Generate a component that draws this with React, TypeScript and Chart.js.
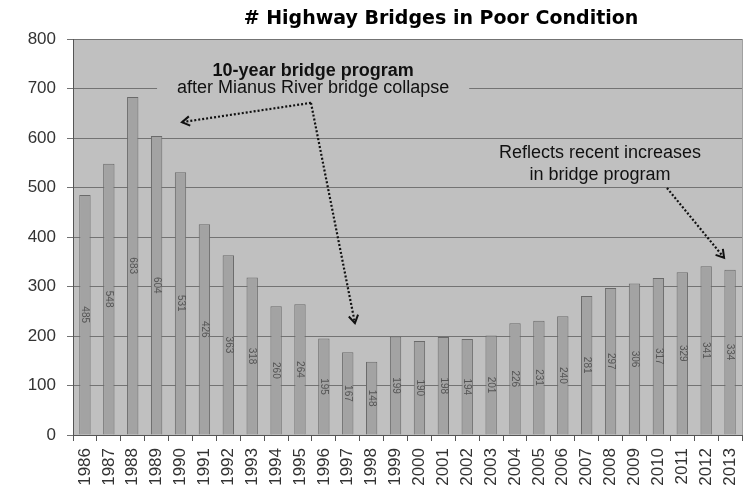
import React, { useEffect, useRef } from "react";
import { Chart, registerables } from "chart.js";

Chart.register(...registerables);

const years = [
  "1986", "1987", "1988", "1989", "1990", "1991", "1992", "1993", "1994", "1995",
  "1996", "1997", "1998", "1999", "2000", "2001", "2002", "2003", "2004", "2005",
  "2006", "2007", "2008", "2009", "2010", "2011", "2012", "2013",
];
const poorBridges = [
  485, 548, 683, 604, 531, 426, 363, 318, 260, 264,
  195, 167, 148, 199, 190, 198, 194, 201, 226, 231,
  240, 281, 297, 306, 317, 329, 341, 334,
];
const yMin = 0;
const yMax = 800;
const yStep = 100;

const titleText = "# Highway Bridges in Poor Condition";
const noteOneBold = "10-year bridge program";
const noteOneText = "after Mianus River bridge collapse";
const noteTwoLines = ["Reflects recent increases", "in bridge program"];

// annotation anchors in data coordinates (category index, value)
const noteOneAt = { x: 9.55, yBold: 735, yText: 701 };
const noteTwoAt = { x: 21.56, y1: 570, y2: 525 };
const arrowOneStart = { x: 9.46, y: 671 };
const arrowOneEndA = { x: 4.06, y: 632 };
const arrowOneEndB = { x: 11.3, y: 226 };
const arrowTwoStart = { x: 24.36, y: 499 };
const arrowTwoEnd = { x: 26.75, y: 358 };

const FONT = "'Liberation Sans', Arial, sans-serif";
const TITLE_FONT = "'DejaVu Sans', 'Liberation Sans', sans-serif";

function drawArrow(ctx: CanvasRenderingContext2D, x1: number, y1: number, x2: number, y2: number) {
  ctx.save();
  ctx.strokeStyle = "#111";
  ctx.lineWidth = 2.2;
  ctx.setLineDash([2, 2]);
  ctx.beginPath();
  ctx.moveTo(x1, y1);
  ctx.lineTo(x2, y2);
  ctx.stroke();
  ctx.setLineDash([]);
  const ang = Math.atan2(y2 - y1, x2 - x1);
  const len = 9;
  const spread = 0.55;
  ctx.lineWidth = 2;
  ctx.beginPath();
  ctx.moveTo(x2 - len * Math.cos(ang - spread), y2 - len * Math.sin(ang - spread));
  ctx.lineTo(x2, y2);
  ctx.lineTo(x2 - len * Math.cos(ang + spread), y2 - len * Math.sin(ang + spread));
  ctx.stroke();
  ctx.restore();
}

const decorPlugin = {
  id: "decor",
  beforeDraw(chart: any) {
    const { ctx, chartArea } = chart;
    ctx.save();
    ctx.fillStyle = "#c0c0c0";
    ctx.fillRect(chartArea.left, chartArea.top, chartArea.right - chartArea.left, chartArea.bottom - chartArea.top);
    ctx.restore();
  },
  afterDatasetsDraw(chart: any) {
    const { ctx, chartArea } = chart;
    const xs = chart.scales.x;
    const ys = chart.scales.y;
    const px = (v: number) => xs.getPixelForValue(v);
    const py = (v: number) => ys.getPixelForValue(v);

    // right border
    ctx.save();
    ctx.strokeStyle = "#a0a0a0";
    ctx.lineWidth = 1;
    ctx.beginPath();
    ctx.moveTo(chartArea.right + 0.5, chartArea.top);
    ctx.lineTo(chartArea.right + 0.5, chartArea.bottom);
    ctx.stroke();
    ctx.restore();

    // bar value labels (rotated)
    const meta = chart.getDatasetMeta(0);
    ctx.save();
    ctx.fillStyle = "#555";
    ctx.font = `10px ${FONT}`;
    ctx.textAlign = "center";
    ctx.textBaseline = "middle";
    meta.data.forEach((bar: any, i: number) => {
      const cx = bar.x;
      const cy = (bar.y + bar.base) / 2;
      ctx.save();
      ctx.translate(cx, cy);
      ctx.rotate(Math.PI / 2);
      ctx.fillText(String(poorBridges[i]), 0, 0);
      ctx.restore();
    });
    ctx.restore();

    // note one
    ctx.save();
    ctx.textAlign = "center";
    ctx.textBaseline = "middle";
    ctx.font = `18px ${FONT}`;
    const w = ctx.measureText(noteOneText).width;
    const cx1 = px(noteOneAt.x);
    ctx.fillStyle = "#c0c0c0";
    ctx.fillRect(cx1 - w / 2 - 20, py(noteOneAt.yText) - 8, w + 40, 16);
    ctx.fillStyle = "#111";
    ctx.fillText(noteOneText, cx1, py(noteOneAt.yText));
    ctx.font = `bold 18px ${FONT}`;
    ctx.fillText(noteOneBold, cx1, py(noteOneAt.yBold));

    ctx.font = `18px ${FONT}`;
    const cx2 = px(noteTwoAt.x);
    ctx.fillText(noteTwoLines[0], cx2, py(noteTwoAt.y1));
    ctx.fillText(noteTwoLines[1], cx2, py(noteTwoAt.y2));
    ctx.restore();

    drawArrow(ctx, px(arrowOneStart.x), py(arrowOneStart.y), px(arrowOneEndA.x), py(arrowOneEndA.y));
    drawArrow(ctx, px(arrowOneStart.x), py(arrowOneStart.y), px(arrowOneEndB.x), py(arrowOneEndB.y));
    drawArrow(ctx, px(arrowTwoStart.x), py(arrowTwoStart.y), px(arrowTwoEnd.x), py(arrowTwoEnd.y));
  },
  afterDraw(chart: any) {
    const { ctx } = chart;
    ctx.save();
    ctx.fillStyle = "#000";
    ctx.font = `bold 19px ${TITLE_FONT}`;
    ctx.textAlign = "center";
    ctx.textBaseline = "middle";
    ctx.fillText(titleText, 441, 19);
    ctx.restore();
  },
};

export default function App() {
  const canvasRef = useRef<HTMLCanvasElement | null>(null);

  useEffect(() => {
    document.body.style.margin = "0";
    const canvas = canvasRef.current;
    if (!canvas) return;
    const chart = new Chart(canvas, {
      type: "bar",
      data: {
        labels: years,
        datasets: [
          {
            label: "# Highway Bridges in Poor Condition",
            data: poorBridges,
            backgroundColor: "#a3a3a3",
            borderColor: "#6a6a6a",
            borderWidth: 1,
            barPercentage: 0.5,
            categoryPercentage: 0.95,
          },
        ],
      },
      options: {
        responsive: false,
        animation: false,
        layout: { padding: { top: 39, right: 11, left: 0, bottom: 0 } },
        plugins: {
          legend: { display: false },
          title: { display: false },
          tooltip: { enabled: false },
        },
        scales: {
          x: {
            afterFit: (scale: any) => {
              scale.height = 56;
              scale.paddingRight = 0;
              scale.paddingLeft = 0;
            },
            grid: {
              display: true,
              drawOnChartArea: false,
              drawTicks: true,
              tickLength: 6,
              color: "#555",
              offset: true,
            },
            border: { color: "#555", width: 1 },
            ticks: {
              color: "#333",
              font: { family: FONT, size: 17 },
              maxRotation: 90,
              minRotation: 90,
              padding: 7,
              autoSkip: false,
            },
          },
          y: {
            min: yMin,
            max: yMax,
            afterFit: (scale: any) => {
              scale.width = 73;
              scale.paddingTop = 0;
              scale.paddingBottom = 0;
            },
            grid: {
              color: "#737373",
              lineWidth: 1,
              tickLength: 6,
              drawTicks: true,
            },
            border: { color: "#555", width: 1 },
            ticks: {
              stepSize: yStep,
              color: "#333",
              font: { family: FONT, size: 17 },
              padding: 11,
            },
          },
        },
      },
      plugins: [decorPlugin],
    });
    return () => chart.destroy();
  }, []);

  return (
    <div style={{ position: "fixed", left: 0, top: 0, width: 753, height: 491, background: "#fff" }}>
      <canvas ref={canvasRef} width={753} height={491} />
    </div>
  );
}
